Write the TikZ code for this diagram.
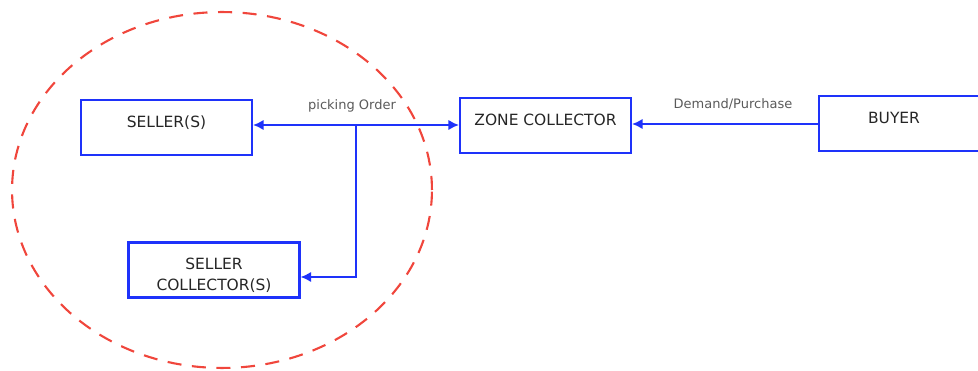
\documentclass[tikz,border=0pt]{standalone}
\usepackage{fontspec}
\setmainfont{DejaVu Sans}
\usetikzlibrary{arrows.meta}
\definecolor{boxblue}{RGB}{30, 50, 250}
\definecolor{zonered}{RGB}{240, 70, 60}
\definecolor{labelgray}{RGB}{90, 90, 90}

\begin{document}
\begin{tikzpicture}[x=0.02cm, y=-0.02cm,
	party/.style={draw=boxblue, line width=1.2pt, minimum width=3.42cm, minimum height=1.1cm,
		text height=0.2cm, text depth=0.2cm, text=black!85, font=\fontsize{8.8}{10}\selectfont},
	flow/.style={draw=boxblue, line width=1.2pt, -{Latex[length=6pt, width=6pt]}},
	flowlabel/.style={text=labelgray, font=\fontsize{7.4}{8}\selectfont}
]
	\useasboundingbox (0, 0) rectangle (978, 371);
	\clip (0, 0) rectangle (978, 371);

	% zone
	\draw[zonered, line width=1.2pt, dash pattern=on 8pt off 6pt] (222, 190) ellipse [x radius=4.2cm, y radius=3.56cm];

	% parties
	\node[party, text height=23pt, text depth=0pt, align=center, font=\fontsize{8.8}{12}\selectfont] (sellercoll) at (214, 270) {SELLER\\COLLECTOR(S)};
	\node[party] (seller) at (166.5, 127.5) {SELLER(S)};
	\node[party] (zone) at (545.5, 125.5) {ZONE COLLECTOR};
	\node[party, minimum width=3.6cm, anchor=west] (buyer) at (818, 123.5) {\hspace*{-0.6cm}BUYER};

	% connectors
	\coordinate (split) at (356, 125);
	\draw[flow, {Latex[length=6pt, width=6pt]}-{Latex[length=6pt, width=6pt]}] (seller.east |- split) -- (zone.west |- split);
	\draw[flow] (split) -- (split |- 0, 277) -- (sellercoll.east |- 0, 277);
	\draw[flow] (buyer.west |- 0, 124) -- (zone.east |- 0, 124);

	% labels
	\node[flowlabel] (pickinglabel) at (352, 106) {picking Order};
	\node[flowlabel] (demandlabel) at (733, 104) {Demand/Purchase};
\end{tikzpicture}
\end{document}
